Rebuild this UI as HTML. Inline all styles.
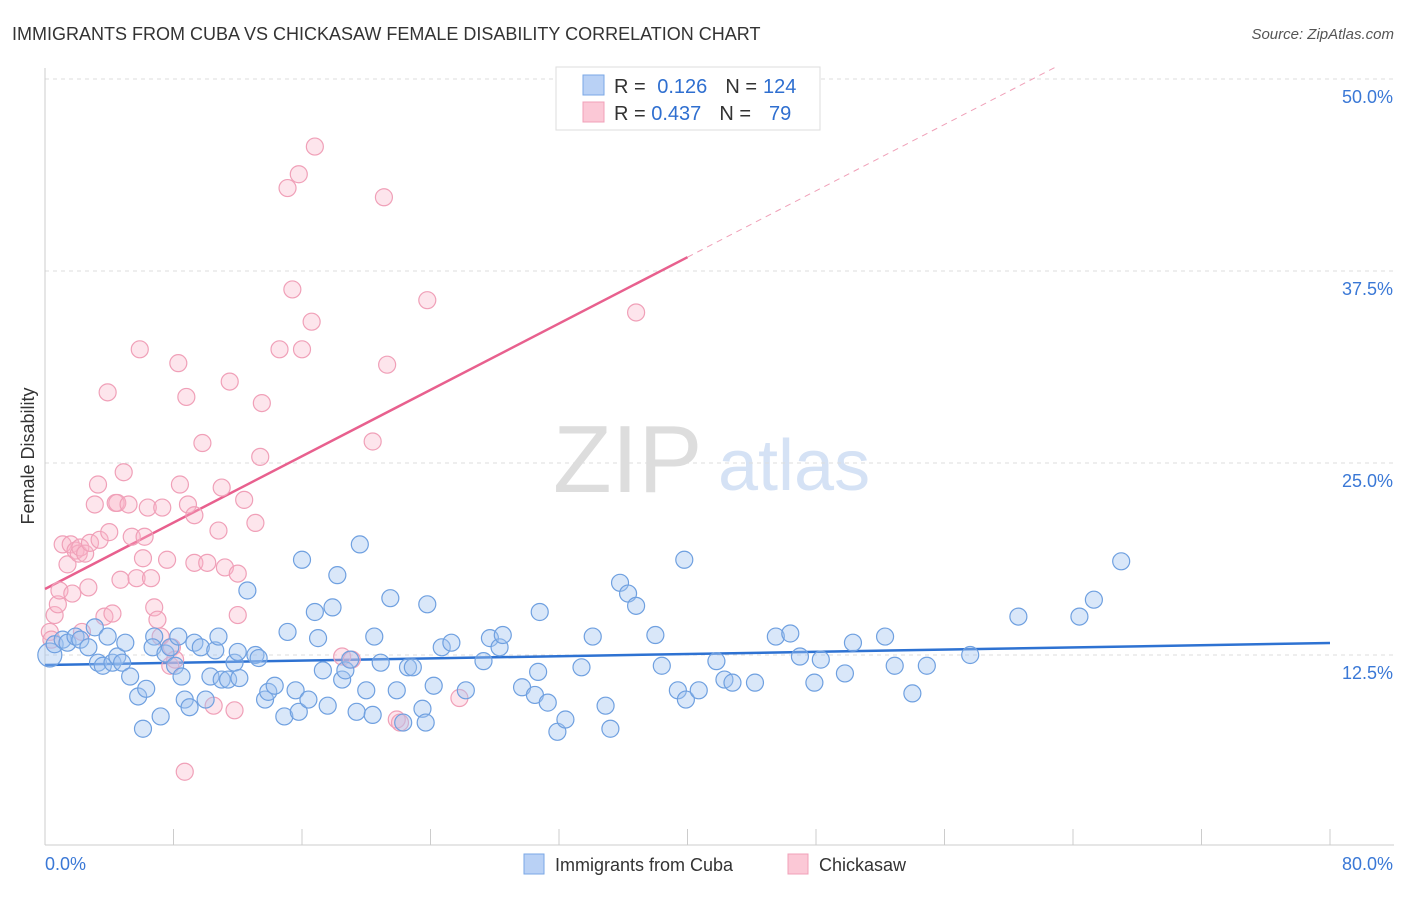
<!DOCTYPE html>
<html><head><meta charset="utf-8"><style>
body{margin:0;background:#fff;font-family:"Liberation Sans",sans-serif;}
svg text{font-family:"Liberation Sans",sans-serif;}
</style></head><body>
<svg id="chart" width="1406" height="892" xmlns="http://www.w3.org/2000/svg">
<text x="12" y="40" font-size="18" fill="#333">IMMIGRANTS FROM CUBA VS CHICKASAW FEMALE DISABILITY CORRELATION CHART</text>
<text x="1394" y="39" font-size="15" fill="#555" font-style="italic" text-anchor="end">Source: ZipAtlas.com</text>
<text x="34" y="456" font-size="18" fill="#333" text-anchor="middle" transform="rotate(-90 34 456)">Female Disability</text>
<g><text x="553" y="492" font-size="96" fill="#ddd" font-family="Liberation Serif,serif">ZIP</text><text x="718" y="490" font-size="72" fill="#d5e2f5">atlas</text></g>
<g id="grid"></g><g id="axes"></g><g id="trend"></g><g id="pts"></g>
<g>
<rect x="556" y="67" width="264" height="63" fill="#fff" stroke="#ddd"/>
<rect x="583" y="75" width="21" height="20" fill="#b9d1f5" stroke="#7aa7e6"/>
<rect x="583" y="102" width="21" height="20" fill="#fbc8d6" stroke="#f0a0b8"/>
<text x="614" y="93" font-size="20" fill="#333">R = <tspan fill="#2f6fd0" dx="6">0.126</tspan><tspan dx="18" fill="#333">N =</tspan><tspan fill="#2f6fd0" dx="6">124</tspan></text>
<text x="614" y="120" font-size="20" fill="#333">R = <tspan fill="#2f6fd0">0.437</tspan><tspan dx="18" fill="#333">N =</tspan><tspan fill="#2f6fd0" dx="18">79</tspan></text>
</g>
<g>
<rect x="524" y="854" width="20" height="20" fill="#b9d1f5" stroke="#7aa7e6"/>
<text x="555" y="871" font-size="18" fill="#333">Immigrants from Cuba</text>
<rect x="788" y="854" width="20" height="20" fill="#fbc8d6" stroke="#f0a0b8"/>
<text x="819" y="871" font-size="18" fill="#333">Chickasaw</text>
</g>
</svg>
<script>
const yTicks=[12.5,25,37.5,50];
const yTickLabels=["12.5%","25.0%","37.5%","50.0%"];
const xTickVals=[0,8,16,24,32,40,48,56,64,72,80];
const cubaX=[0.3,0.6,1.1,1.4,1.9,2.2,2.7,3.1,3.3,3.6,3.9,4.2,4.5,5.0,4.8,5.3,5.8,6.1,6.3,6.8,6.7,7.2,7.5,7.8,8.1,8.3,8.5,8.7,9.0,9.3,9.7,10.0,10.3,10.6,10.8,11.0,11.4,11.8,12.0,12.1,12.6,13.1,13.3,13.7,13.9,14.3,14.9,15.1,15.6,15.8,16.0,16.4,16.8,17.0,17.3,17.6,17.9,18.2,18.5,18.7,19.0,19.4,19.6,20.0,20.4,20.5,20.9,21.5,21.9,22.3,22.6,22.9,23.5,23.7,23.8,24.2,24.7,25.3,26.2,27.3,27.7,28.3,28.5,29.7,30.5,30.7,30.8,31.3,31.9,32.4,33.4,34.1,34.9,35.2,35.8,36.3,36.8,38.0,38.4,39.4,39.8,39.9,40.7,41.8,42.3,42.8,44.2,45.5,46.4,47.0,47.9,48.3,49.8,50.3,52.3,52.9,54.0,54.9,57.6,60.6,64.4,65.3,67.0];
const cubaY=[12.5,13.2,13.5,13.3,13.7,13.5,13.0,14.3,12.0,11.8,13.7,12.0,12.4,13.3,12.0,11.1,9.8,7.7,10.3,13.7,13.0,8.5,12.6,13.0,11.8,13.7,11.1,9.6,9.1,13.3,13.0,9.6,11.1,12.8,13.7,10.9,10.9,12.0,12.7,11.0,16.7,12.5,12.3,9.6,10.1,10.5,8.5,14.0,10.2,8.8,18.7,9.6,15.3,13.6,11.5,9.2,15.6,17.7,10.9,11.5,12.2,8.8,19.7,10.2,8.6,13.7,12.0,16.2,10.2,8.1,11.7,11.7,9.0,8.1,15.8,10.5,13.0,13.3,10.2,12.1,13.6,13.0,13.8,10.4,9.9,11.4,15.3,9.4,7.5,8.3,11.7,13.7,9.2,7.7,17.2,16.5,15.7,13.8,11.8,10.2,18.7,9.6,10.2,12.1,10.9,10.7,10.7,13.7,13.9,12.4,10.7,12.2,11.3,13.3,13.7,11.8,10.0,11.8,12.5,15.0,15.0,16.1,18.6];
const chickX=[0.3,0.4,0.6,0.8,0.9,1.1,1.4,1.6,1.7,1.9,2.1,2.2,2.3,2.5,2.7,2.8,3.1,3.3,3.4,3.7,3.9,4.0,4.2,4.4,4.5,4.7,4.9,5.2,5.4,5.7,5.9,6.1,6.2,6.4,6.6,6.8,7.0,7.2,7.3,7.6,7.8,7.9,8.1,8.3,8.4,8.7,8.8,8.9,9.3,9.3,9.8,10.1,10.5,10.8,11.0,11.2,11.5,11.8,12.0,12.0,12.4,13.1,13.4,13.5,14.6,15.1,15.4,15.8,16.0,16.6,16.8,18.5,19.1,20.4,21.1,21.3,21.9,22.1,23.8,25.8,36.8];
const chickY=[14.0,13.5,15.1,15.8,16.7,19.7,18.4,19.7,16.5,19.3,19.1,19.5,14.0,19.1,16.9,19.8,22.3,23.6,20.0,15.0,29.6,20.5,15.2,22.4,22.4,17.4,24.4,22.3,20.2,17.5,32.4,18.8,20.2,22.1,17.5,15.6,14.8,13.7,22.1,18.7,11.8,13.0,12.2,31.5,23.6,4.9,29.3,22.3,21.6,18.5,26.3,18.5,9.2,20.6,23.4,18.2,30.3,8.9,17.8,15.1,22.6,21.1,25.4,28.9,32.4,42.9,36.3,43.8,32.4,34.2,45.6,12.4,12.2,26.4,42.3,31.4,8.3,8.1,35.6,9.7,34.8];
const cubaTrend=[11.85,13.28];
const chickTrend=[16.8,38.4];
const NS="http://www.w3.org/2000/svg";
const X0=45,X1=1330,Y0=847,YPX=15.36;
function sx(v){return X0+v*(X1-X0)/80;}
function sy(v){return Y0-v*YPX;}
function mk(tag,attrs,parent){const e=document.createElementNS(NS,tag);for(const k in attrs)e.setAttribute(k,attrs[k]);document.getElementById(parent).appendChild(e);return e;}
yTicks.forEach((t,i)=>{
 const l=mk('line',{x1:45,x2:1394,y1:sy(t),y2:sy(t),stroke:'#ddd','stroke-dasharray':'4,4'},'grid');
 
 
 const tx=mk('text',{x:1393,y:sy(t)+24,'font-size':18,fill:'#3a78d6','text-anchor':'end'},'grid');
 tx.textContent=yTickLabels[i];
 
 
});
const ax=mk('line',{x1:45,x2:1394,y1:845,y2:845,stroke:'#ccc'},'axes');


const ay=mk('line',{x1:45,x2:45,y1:68,y2:845,stroke:'#ccc'},'axes');


xTickVals.forEach(v=>{
 const t=mk('line',{x1:sx(v),x2:sx(v),y1:829,y2:845,stroke:'#ccc'},'axes');
 
 
});
const xl0=mk('text',{x:45,y:870,'font-size':18,fill:'#3a78d6'},'axes');xl0.textContent='0.0%';


const xl1=mk('text',{x:1393,y:870,'font-size':18,fill:'#3a78d6','text-anchor':'end'},'axes');xl1.textContent='80.0%';


chickX.forEach((x,i)=>{
 const c=mk('circle',{cx:sx(x),cy:sy(chickY[i]),r:8.5,fill:'rgba(248,180,200,0.35)',stroke:'#f0a0b8','stroke-width':1.2},'pts');
 
 
});
cubaX.forEach((x,i)=>{
 const c=mk('circle',{cx:sx(x),cy:sy(cubaY[i]),r:i===0?12:8.5,fill:'rgba(160,195,240,0.4)',stroke:'#6fa0e0','stroke-width':1.2},'pts');
 
 
});
const bt=mk('line',{x1:sx(0),y1:sy(cubaTrend[0]),x2:sx(80),y2:sy(cubaTrend[1]),stroke:'#2e72d2','stroke-width':2.5},'trend');


const slope=(chickTrend[1]-chickTrend[0])/40;
const pt=mk('line',{x1:sx(0),y1:sy(chickTrend[0]),x2:sx(40),y2:sy(chickTrend[1]),stroke:'#e8608e','stroke-width':2.5},'trend');


const xEnd=(50.8-chickTrend[0])/slope;
const pd=mk('line',{x1:sx(40),y1:sy(chickTrend[1]),x2:sx(xEnd),y2:sy(50.8),stroke:'#f0a0b8','stroke-width':1,'stroke-dasharray':'6,5'},'trend');


</script>
</body></html>
